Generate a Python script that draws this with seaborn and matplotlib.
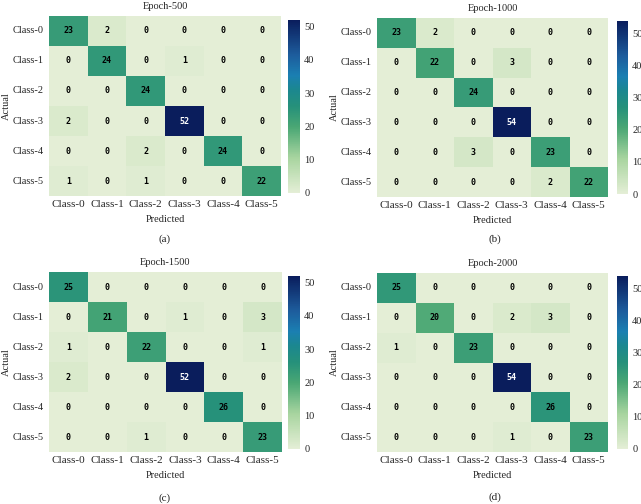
import numpy as np
import pandas as pd
import matplotlib
matplotlib.use("Agg")
import matplotlib.pyplot as plt
from matplotlib.colors import LinearSegmentedColormap
import seaborn as sns

classes = ["Class-0", "Class-1", "Class-2", "Class-3", "Class-4", "Class-5"]

cm_500 = [[23, 2, 0, 0, 0, 0],
          [0, 24, 0, 1, 0, 0],
          [0, 0, 24, 0, 0, 0],
          [2, 0, 0, 52, 0, 0],
          [0, 0, 2, 0, 24, 0],
          [1, 0, 1, 0, 0, 22]]

cm_1000 = [[23, 2, 0, 0, 0, 0],
           [0, 22, 0, 3, 0, 0],
           [0, 0, 24, 0, 0, 0],
           [0, 0, 0, 54, 0, 0],
           [0, 0, 3, 0, 23, 0],
           [0, 0, 0, 0, 2, 22]]

cm_1500 = [[25, 0, 0, 0, 0, 0],
           [0, 21, 0, 1, 0, 3],
           [1, 0, 22, 0, 0, 1],
           [2, 0, 0, 52, 0, 0],
           [0, 0, 0, 0, 26, 0],
           [0, 0, 1, 0, 0, 23]]

cm_2000 = [[25, 0, 0, 0, 0, 0],
           [0, 20, 0, 2, 3, 0],
           [1, 0, 23, 0, 0, 0],
           [0, 0, 0, 54, 0, 0],
           [0, 0, 0, 0, 26, 0],
           [0, 0, 0, 1, 0, 23]]

titles = ["Epoch-500", "Epoch-1000", "Epoch-1500", "Epoch-2000"]
panel_tags = ["(a)", "(b)", "(c)", "(d)"]

# light green -> sea green -> teal -> blue -> navy
cmap = LinearSegmentedColormap.from_list(
    "gn_navy",
    [(0.0, "#e4eed6"), (0.2, "#a9d5a0"), (0.38, "#4aa774"),
     (0.5, "#26917a"), (0.6, "#1b8790"), (0.68, "#1b7fb2"),
     (0.8, "#1d5c9c"), (1.0, "#0a1d5c")])

sns.set_style("white")
plt.rcParams["font.family"] = ["Liberation Serif", "DejaVu Serif"]

W, H = 641, 504
fig = plt.figure(figsize=(W / 100, H / 100), dpi=100)

def box(x0, y0, x1, y1):
    return [x0 / W, 1 - y1 / H, (x1 - x0) / W, (y1 - y0) / H]

# heatmap box, colorbar box, tag position, "Actual" label x
layout = [
    (box(49, 16, 281, 196), box(288, 20, 300, 193), (165, 239), 6),
    (box(377, 18, 608, 197), box(617, 21, 628, 194), (495, 239), 334),
    (box(49, 272, 282, 452), box(288, 276, 300, 449), (165, 498), 6),
    (box(377, 273, 608, 452), box(617, 276, 628, 449), (495, 497), 334),
]

mats = [cm_500, cm_1000, cm_1500, cm_2000]

for mat, title, tag, (ax_pos, cb_pos, tag_xy, ylab_x) in zip(mats, titles, panel_tags, layout):
    ax = fig.add_axes(ax_pos)
    cax = fig.add_axes(cb_pos)
    df = pd.DataFrame(mat, index=classes, columns=classes)
    sns.heatmap(df, ax=ax, cbar_ax=cax, cmap=cmap, annot=True, fmt="d",
                annot_kws={"fontsize": 6, "fontweight": "bold",
                           "family": "DejaVu Sans Mono"})
    peak = df.values.max()
    for t in ax.texts:
        t.set_color("white" if int(t.get_text()) >= 0.8 * peak else "black")
    ax.set_title(title, fontsize=7.5, pad=5)
    ax.set_xlabel("Predicted", fontsize=7.5, labelpad=4)
    ax.set_ylabel("Actual", fontsize=7.5)
    ax.tick_params(axis="x", length=0, labelsize=8, pad=3)
    ax.tick_params(axis="y", length=0, labelsize=7.5, pad=4)
    plt.setp(ax.get_yticklabels(), rotation=0)
    plt.setp(ax.get_xticklabels(), rotation=0)
    yc = ax_pos[1] + ax_pos[3] / 2
    ax.yaxis.set_label_coords(ylab_x / W, yc, transform=fig.transFigure)
    ax.yaxis.label.set_va("center")
    cax.tick_params(length=0, labelsize=7.5, pad=3)
    cax.set_yticks([0, 10, 20, 30, 40, 50])
    fig.text(tag_xy[0] / W, 1 - tag_xy[1] / H, tag, fontsize=8,
             ha="center", va="center")

fig.savefig("out.png", dpi=100)
